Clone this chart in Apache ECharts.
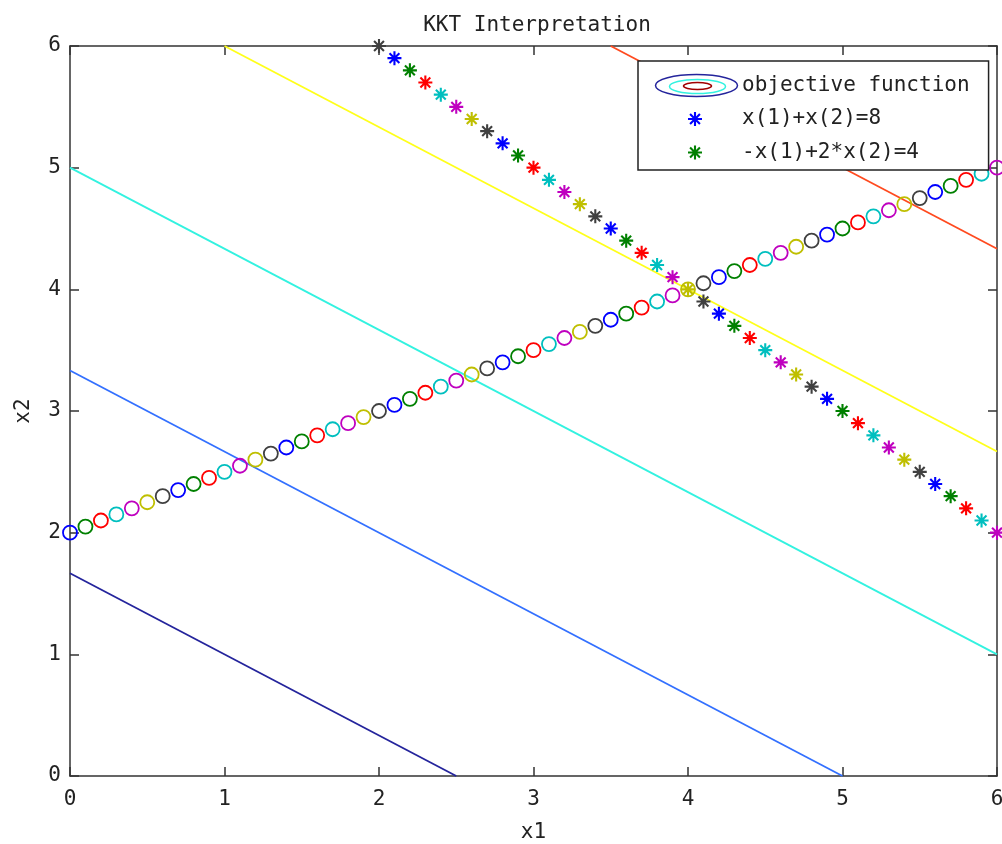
<!DOCTYPE html>
<html>
<head>
<meta charset="utf-8">
<script src="https://cdn.jsdelivr.net/npm/echarts@6/dist/echarts.min.js"></script>
<style>
  html, body { margin: 0; padding: 0; background: #fff; }
  #chart { width: 1002px; height: 844px; }
</style>
</head>
<body>
<div id="chart"></div>
<script>
// contour levels of the objective x1 + 1.5*x2, each drawn as a segment across the box
var contourLevels = [2.5, 5, 7.5, 10, 12.5];
var contourLines = [
    [[0, 1.667], [2.5, 0]],
    [[0, 3.333], [5, 0]],
    [[0, 5], [6, 1]],
    [[1, 6], [6, 2.667]],
    [[3.5, 6], [6, 4.333]]
];
var contourColors = ['#24249c', '#3370ff', '#33f2e0', '#ffff1a', '#ff4a1f'];

// x(1)+x(2)=8  (stars)
var starX = [2, 2.1, 2.2, 2.3, 2.4, 2.5, 2.6, 2.7, 2.8, 2.9, 3, 3.1, 3.2, 3.3, 3.4, 3.5, 3.6, 3.7, 3.8, 3.9, 4,
    4.1, 4.2, 4.3, 4.4, 4.5, 4.6, 4.7, 4.8, 4.9, 5, 5.1, 5.2, 5.3, 5.4, 5.5, 5.6, 5.7, 5.8, 5.9, 6];
var starY = [6, 5.9, 5.8, 5.7, 5.6, 5.5, 5.4, 5.3, 5.2, 5.1, 5, 4.9, 4.8, 4.7, 4.6, 4.5, 4.4, 4.3, 4.2, 4.1, 4,
    3.9, 3.8, 3.7, 3.6, 3.5, 3.4, 3.3, 3.2, 3.1, 3, 2.9, 2.8, 2.7, 2.6, 2.5, 2.4, 2.3, 2.2, 2.1, 2];

// -x(1)+2*x(2)=4  (circles)
var circleX = [0, 0.1, 0.2, 0.3, 0.4, 0.5, 0.6, 0.7, 0.8, 0.9, 1, 1.1, 1.2, 1.3, 1.4, 1.5, 1.6, 1.7, 1.8, 1.9,
    2, 2.1, 2.2, 2.3, 2.4, 2.5, 2.6, 2.7, 2.8, 2.9, 3, 3.1, 3.2, 3.3, 3.4, 3.5, 3.6, 3.7, 3.8, 3.9,
    4, 4.1, 4.2, 4.3, 4.4, 4.5, 4.6, 4.7, 4.8, 4.9, 5, 5.1, 5.2, 5.3, 5.4, 5.5, 5.6, 5.7, 5.8, 5.9, 6];
var circleY = [2, 2.05, 2.1, 2.15, 2.2, 2.25, 2.3, 2.35, 2.4, 2.45, 2.5, 2.55, 2.6, 2.65, 2.7, 2.75, 2.8, 2.85, 2.9, 2.95,
    3, 3.05, 3.1, 3.15, 3.2, 3.25, 3.3, 3.35, 3.4, 3.45, 3.5, 3.55, 3.6, 3.65, 3.7, 3.75, 3.8, 3.85, 3.9, 3.95,
    4, 4.05, 4.1, 4.15, 4.2, 4.25, 4.3, 4.35, 4.4, 4.45, 4.5, 4.55, 4.6, 4.65, 4.7, 4.75, 4.8, 4.85, 4.9, 4.95, 5];

var axisTicks = [0, 1, 2, 3, 4, 5, 6];

// old matlab color order b g r c m y k
var colorOrder = ['#0000ff', '#008000', '#ff0000', '#00bfbf', '#bf00bf', '#bfbf00', '#404040'];

var FONT = '"DejaVu Sans Mono", "Liberation Mono", monospace';
var STAR = 'path://M-1,-0.15L1,-0.15L1,0.15L-1,0.15ZM-0.15,-1L0.15,-1L0.15,1L-0.15,1Z' +
    'M-0.81,-0.6L-0.6,-0.81L0.81,0.6L0.6,0.81ZM0.6,-0.81L0.81,-0.6L-0.6,0.81L-0.81,0.6Z' +
    'M-0.33,-0.33L0.33,-0.33L0.33,0.33L-0.33,0.33Z';

function pickColor(x) {
    return colorOrder[Math.round(x * 10) % 7];
}

var myChart = echarts.init(document.getElementById('chart'));

var series = [];
contourLines.forEach(function (seg, i) {
    series.push({
        name: 'objective function',
        type: 'line',
        data: seg,
        showSymbol: false,
        symbol: 'none',
        silent: true,
        animation: false,
        lineStyle: {color: contourColors[i], width: 1.8},
        itemStyle: {color: contourColors[i]},
        z: 2
    });
});

series.push({
    name: 'x(1)+x(2)=8',
    type: 'scatter',
    symbol: STAR,
    symbolSize: 14,
    symbolKeepAspect: true,
    animation: false,
    data: starX.map(function (x, i) {
        return {value: [x, starY[i]], itemStyle: {color: pickColor(x), opacity: 1}};
    }),
    itemStyle: {color: '#0000ff', opacity: 1},
    z: 3
});

series.push({
    name: '-x(1)+2*x(2)=4',
    type: 'scatter',
    symbol: 'circle',
    symbolSize: 14,
    symbolKeepAspect: true,
    animation: false,
    data: circleX.map(function (x, i) {
        return {
            value: [x, circleY[i]],
            itemStyle: {color: 'rgba(0,0,0,0)', borderColor: pickColor(x), borderWidth: 1.8, opacity: 1}
        };
    }),
    itemStyle: {color: '#008000', opacity: 1},
    z: 3
});

var axisCommon = {
    type: 'value',
    min: 0,
    max: 6,
    interval: 1,
    splitLine: {show: false},
    axisLine: {show: true, onZero: false, lineStyle: {color: '#333', width: 1.5}},
    axisTick: {show: true, inside: true, length: 9, lineStyle: {color: '#333', width: 1.5}}
};

var option = {
    backgroundColor: '#fff',
    animation: false,
    title: {
        text: 'KKT Interpretation',
        left: 532,
        textAlign: 'center',
        top: 10,
        textStyle: {fontFamily: FONT, fontSize: 21, fontWeight: 'normal', color: '#222'}
    },
    grid: {left: 70, right: 5, top: 46, bottom: 68, containLabel: false, outerBoundsMode: 'none'},
    xAxis: [
        Object.assign({}, axisCommon, {
            position: 'bottom',
            name: 'x1',
            nameLocation: 'middle',
            nameGap: 46,
            nameTextStyle: {fontFamily: FONT, fontSize: 21, color: '#222'},
            axisLabel: {
                margin: 13, fontFamily: FONT, fontSize: 21, color: '#222',
                formatter: function (v) { return axisTicks.indexOf(v) >= 0 ? String(v) : ''; }
            }
        }),
        Object.assign({}, axisCommon, {position: 'top', axisLabel: {show: false}})
    ],
    yAxis: [
        Object.assign({}, axisCommon, {
            position: 'left',
            name: 'x2',
            nameLocation: 'middle',
            nameGap: 36,
            nameRotate: 90,
            nameTextStyle: {fontFamily: FONT, fontSize: 21, color: '#222'},
            axisLabel: {
                margin: 9, fontFamily: FONT, fontSize: 21, color: '#222',
                formatter: function (v) { return axisTicks.indexOf(v) >= 0 ? String(v) : ''; }
            }
        }),
        Object.assign({}, axisCommon, {position: 'right', axisLabel: {show: false}})
    ],
    legend: {
        orient: 'vertical',
        left: 638,
        top: 61,
        padding: [14, 19, 7, 15],
        itemWidth: 84,
        itemHeight: 14,
        itemGap: 12.5,
        selectedMode: false,
        backgroundColor: '#fff',
        borderColor: '#222',
        borderWidth: 1.5,
        borderRadius: 0,
        textStyle: {fontFamily: FONT, fontSize: 21, color: '#222'},
        data: [
            {name: 'objective function', icon: 'rect', itemStyle: {opacity: 0}, lineStyle: {opacity: 0}},
            {name: 'x(1)+x(2)=8', icon: STAR, itemStyle: {color: '#0000ff', borderWidth: 0, opacity: 1}},
            {name: '-x(1)+2*x(2)=4', icon: STAR, itemStyle: {color: '#008000', borderWidth: 0, opacity: 1}}
        ],
        z: 10
    },
    graphic: [
        {type: 'ellipse', left: 653, top: 72, z: 100,
            shape: {cx: 42, cy: 11, rx: 41, ry: 11},
            style: {fill: 'none', stroke: '#24249c', lineWidth: 1.5}},
        {type: 'ellipse', left: 667, top: 77, z: 101,
            shape: {cx: 28, cy: 7, rx: 28, ry: 7},
            style: {fill: 'none', stroke: '#33f2e0', lineWidth: 1.5}},
        {type: 'ellipse', left: 681, top: 80, z: 102,
            shape: {cx: 14, cy: 3.5, rx: 14, ry: 3.5},
            style: {fill: 'none', stroke: '#a00000', lineWidth: 1.5}}
    ],
    series: series
};

myChart.setOption(option);
</script>
</body>
</html>
